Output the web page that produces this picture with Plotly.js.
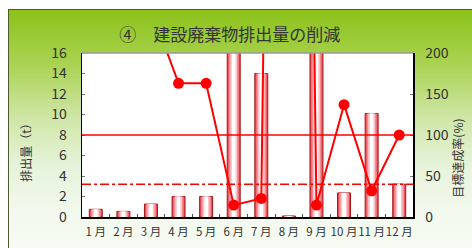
<!DOCTYPE html>
<html>
<head>
<meta charset="utf-8">
<script src="https://cdn.plot.ly/plotly-3.0.1.min.js"></script>
<style>
  html, body { margin: 0; padding: 0; background: #ffffff; }
  #wrap { position: relative; width: 472px; height: 248px; overflow: hidden; }
  #panel {
    position: absolute; left: 8px; top: 9px; width: 464px; height: 239px;
    border-left: 1px solid #4d5a2e; border-top: 1px solid #4d5a2e;
    background: linear-gradient(to bottom, #8cc21a 0%, #a9d250 22%, #cfe6a6 45%, #e6f3da 65%, #f3f9ee 85%, #f7fbf3 100%);
  }
  #chart { position: absolute; left: 0; top: 0; width: 472px; height: 248px; }
</style>
</head>
<body>
<div id="wrap">
  <div id="panel"></div>
  <div id="chart"></div>
</div>
<script>
// ---- data ----
const months = ['1 月','2 月','3 月','4 月','5 月','6 月','7 月','8 月','9 月','10 月','11 月','12 月'];
const emissions = [0.75, 0.55, 1.26, 2.0, 2.0, 22, 14.0, 0.1, 22, 2.35, 10.1, 3.2];   // 排出量 (t)
const achievement = [427, 582, 254, 163, 163, 14.5, 22.7, 2500, 14.5, 137, 32, 100]; // 目標達成率 (%)
const targetT = 3.2;      // 目標値 (t), dash-dot line
const fullRate = 100;     // 100 % line
const leftTicks = [0, 2, 4, 6, 8, 10, 12, 14, 16];
const rightTicks = [0, 50, 100, 150, 200];

const fontFam = '"Noto Sans CJK JP", "Noto Sans", sans-serif';

function barLayer(width, fill, lineColor, lineWidth) {
  return {
    type: 'bar', x: months, y: emissions, yaxis: 'y', width: width,
    marker: { color: fill, line: { color: lineColor, width: lineWidth } },
    hoverinfo: 'skip', showlegend: false
  };
}

const traces = [
  barLayer(0.47, '#ee4a55', '#a31818', 1),
  barLayer(0.36, '#f58a92', 'rgba(0,0,0,0)', 0),
  barLayer(0.25, '#fbc6ca', 'rgba(0,0,0,0)', 0),
  barLayer(0.13, '#ffffff', 'rgba(0,0,0,0)', 0),
  {
    type: 'scatter', mode: 'lines+markers', x: months, y: achievement, yaxis: 'y2',
    line: { color: '#ff0000', width: 2 },
    marker: { color: '#ff0000', size: 11, symbol: 'circle' },
    cliponaxis: true, showlegend: false
  }
];

const layout = {
  width: 472, height: 248,
  margin: { l: 82, r: 59, t: 53, b: 31, pad: 0 },
  paper_bgcolor: 'rgba(0,0,0,0)',
  plot_bgcolor: '#ffffff',
  barmode: 'overlay',
  font: { family: fontFam, color: '#333333', size: 13 },
  title: {
    text: '④　建設廃棄物排出量の削減',
    font: { family: fontFam, size: 17, color: '#333333' },
    xref: 'container', yref: 'container', x: 0.487, y: 0.86,
    xanchor: 'center', yanchor: 'middle'
  },
  xaxis: {
    type: 'category', categoryorder: 'array', categoryarray: months,
    range: [-0.5, 11.5], autorange: false,
    showline: true, linecolor: '#000000', linewidth: 1.5,
    ticks: 'inside', tickson: 'boundaries', ticklen: 3, tickcolor: '#555555',
    showgrid: false, zeroline: false, tickangle: 0,
    tickfont: { family: fontFam, size: 11.5, color: '#333333' },
    ticklabelstandoff: 4, fixedrange: true
  },
  yaxis: {
    range: [0, 16], tickvals: leftTicks, ticktext: leftTicks.map(String),
    showline: true, linecolor: '#000000', linewidth: 1.5,
    ticks: 'inside', ticklen: 3, tickcolor: '#777777',
    showgrid: false, zeroline: false,
    tickfont: { family: fontFam, size: 14, color: '#333333' },
    ticklabelstandoff: 11, fixedrange: true
  },
  yaxis2: {
    range: [0, 200], tickvals: rightTicks, ticktext: rightTicks.map(String),
    overlaying: 'y', side: 'right',
    showline: true, linecolor: '#000000', linewidth: 1.5,
    ticks: 'inside', ticklen: 3, tickcolor: '#777777',
    showgrid: false, zeroline: false,
    tickfont: { family: fontFam, size: 14, color: '#333333' },
    ticklabelstandoff: 8, fixedrange: true
  },
  shapes: [
    { type: 'line', xref: 'paper', x0: 0, x1: 1, yref: 'y2', y0: fullRate, y1: fullRate,
      line: { color: '#ff0000', width: 1.5 }, layer: 'above' },
    { type: 'line', xref: 'paper', x0: 0, x1: 1, yref: 'y', y0: targetT, y1: targetT,
      line: { color: '#ff0000', width: 1.5, dash: 'dashdot' }, layer: 'above' },
    { type: 'line', xref: 'paper', x0: 0, x1: 1, yref: 'paper', y0: 1, y1: 1,
      line: { color: '#9a9a9a', width: 1.5 }, layer: 'above' }
  ],
  annotations: [
    { text: '排出量（t）', textangle: -90, xref: 'paper', yref: 'paper',
      x: -0.169, y: 0.41, xanchor: 'center', yanchor: 'middle', showarrow: false,
      font: { family: fontFam, size: 12, color: '#333333' } },
    { text: '目標達成率(%)', textangle: -90, xref: 'paper', yref: 'paper',
      x: 1.135, y: 0.36, xanchor: 'center', yanchor: 'middle', showarrow: false,
      font: { family: fontFam, size: 12, color: '#333333' } }
  ]
};

Plotly.newPlot('chart', traces, layout, { staticPlot: true, displayModeBar: false });
</script>
</body>
</html>
